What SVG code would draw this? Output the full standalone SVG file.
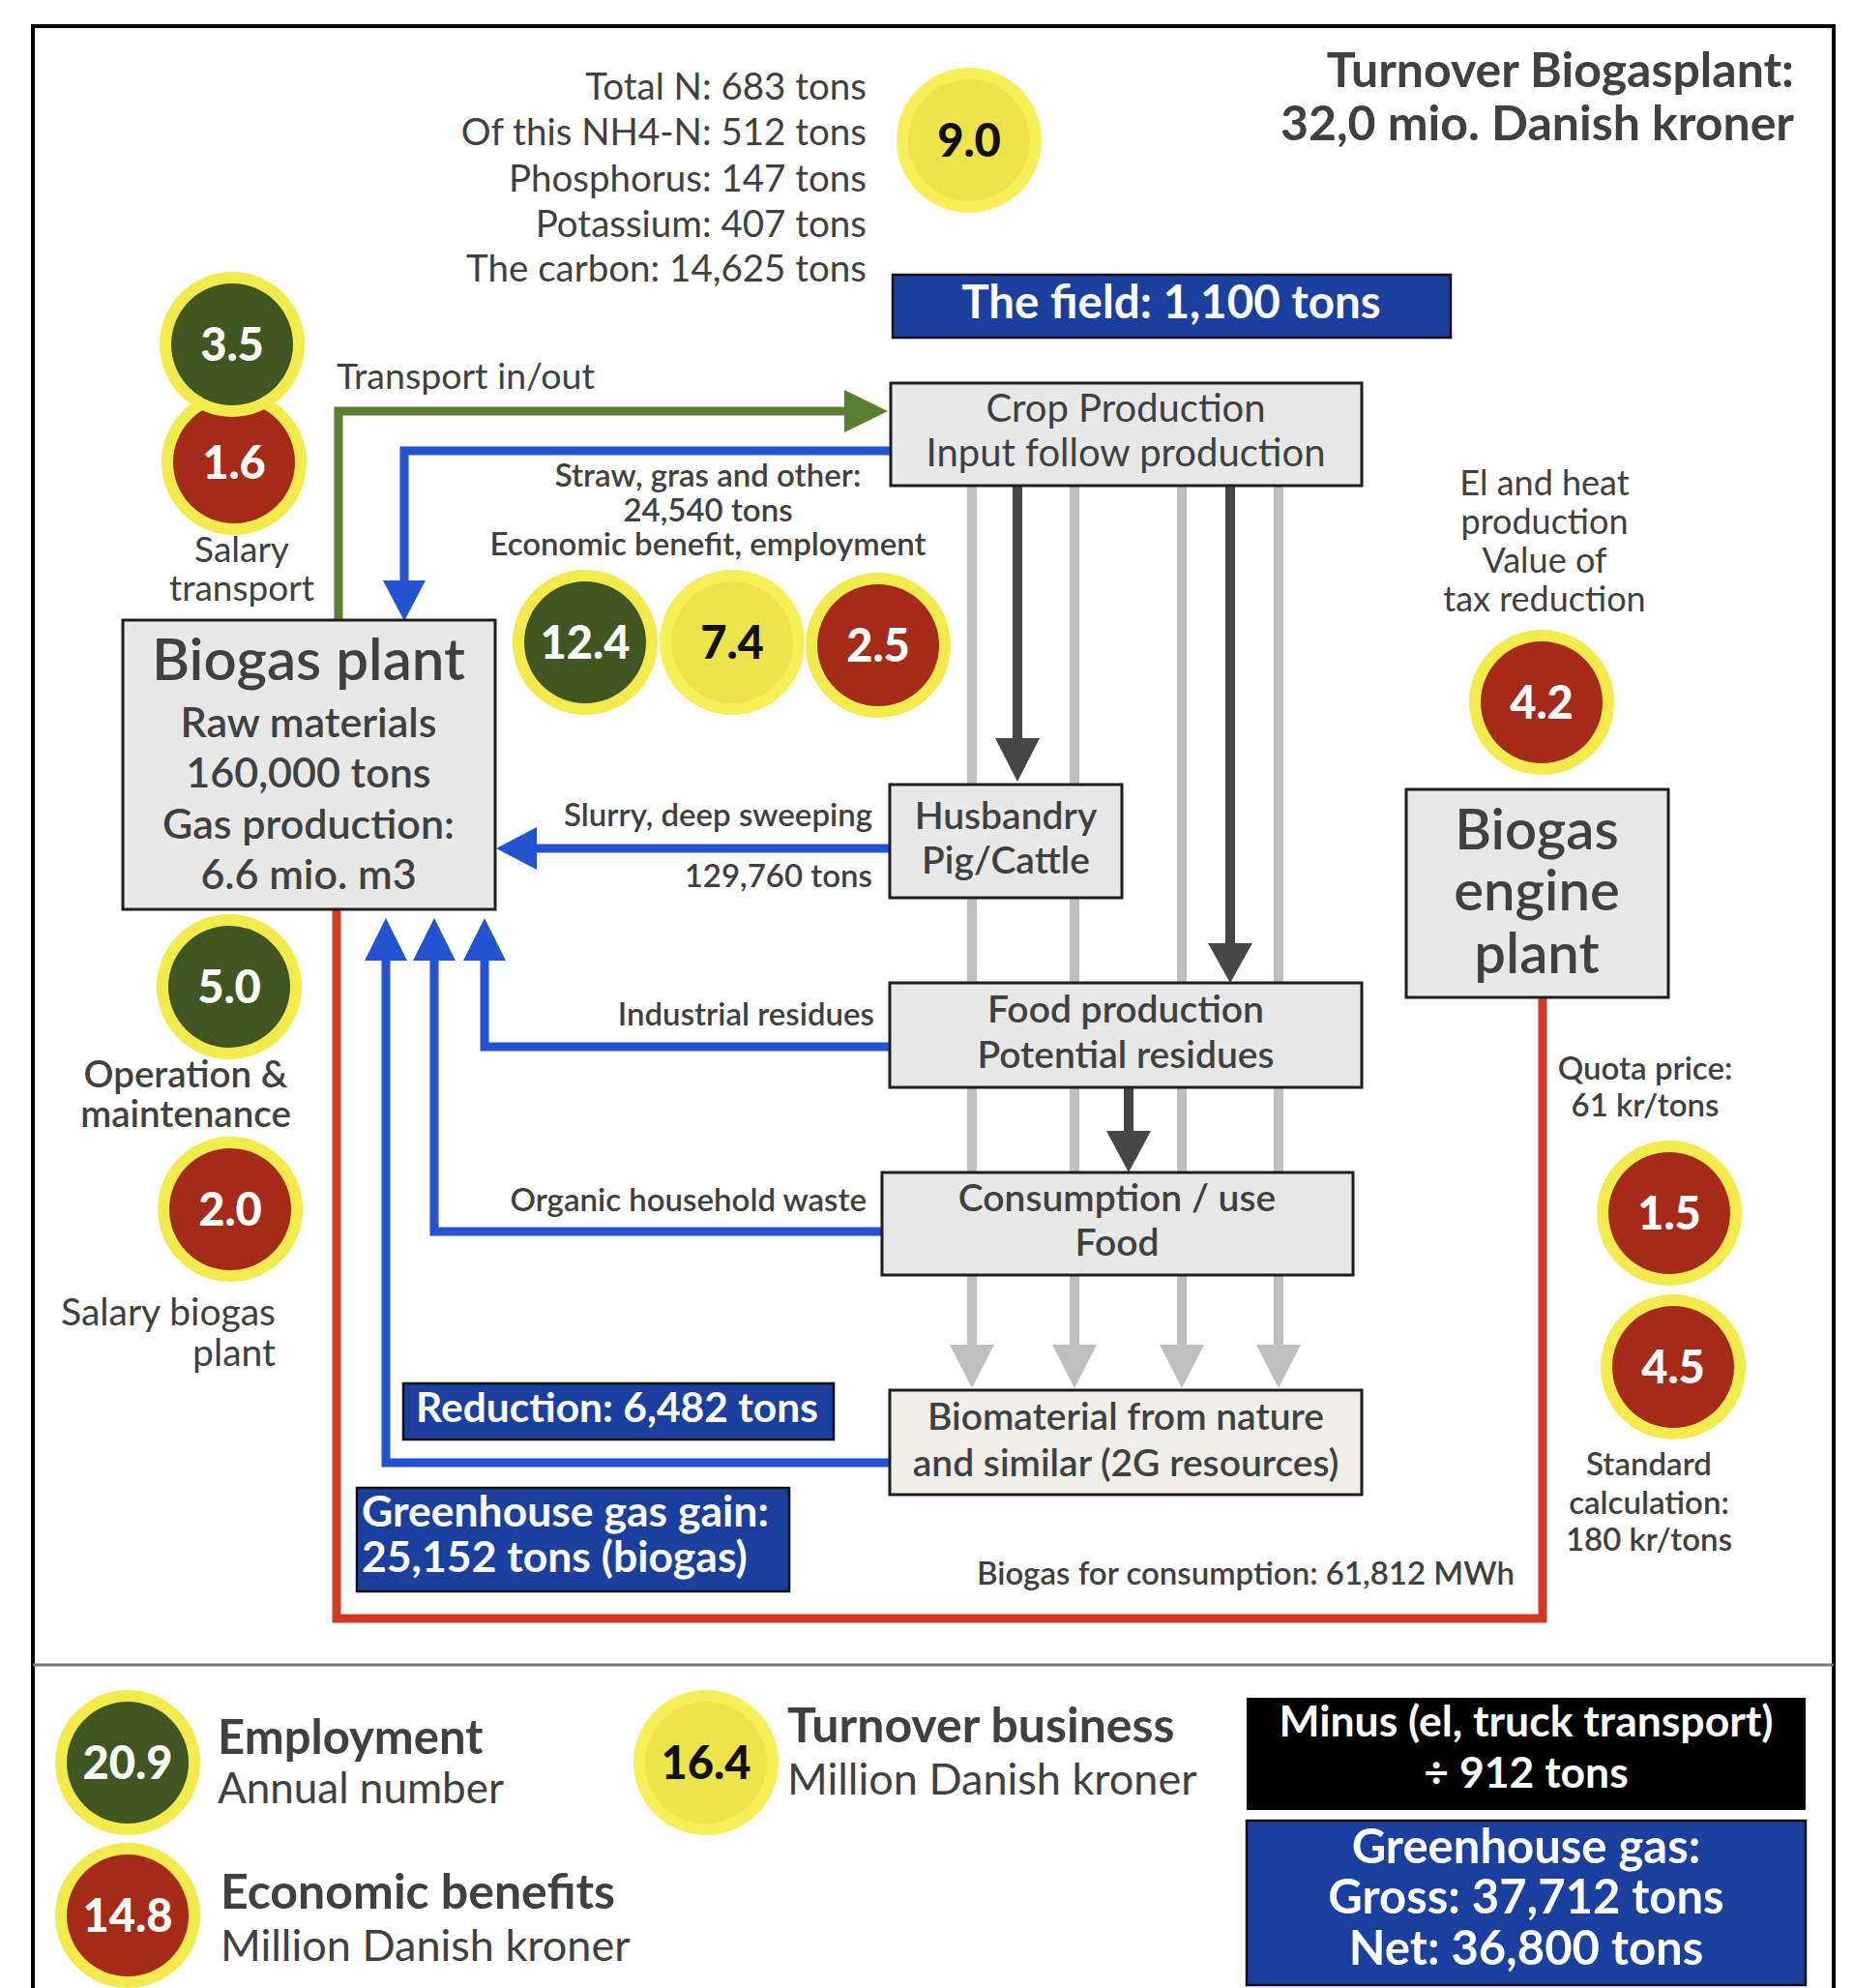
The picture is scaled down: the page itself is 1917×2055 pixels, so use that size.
<svg xmlns="http://www.w3.org/2000/svg" width="1917" height="2055" viewBox="0 0 1917 2055">
<defs>
<style>
.t{font-family:Lato,"Open Sans","DejaVu Sans",sans-serif;fill:#404040}
.b{font-weight:700}
.sb{font-weight:600}
.w{fill:#ffffff}
.k{fill:#111111}
.m{text-anchor:middle}
.e{text-anchor:end}
.box{fill:#e8e8e8;stroke:#1e1e1e;stroke-width:3}
.bbox{fill:#1b3f9f;stroke:#111;stroke-width:2.5}
.ring{fill:#f3ea4b}
.green{fill:#3f5623}
.red{fill:#a52a18}
.num{font-family:Lato,"Open Sans",sans-serif;font-weight:900;font-size:47px;text-anchor:middle}
.blue{stroke:#2453d2;stroke-width:9;fill:none}
.bluef{fill:#2453d2}
.grey{stroke:#bfbfbf;stroke-width:10;fill:none}
.greyf{fill:#bfbfbf}
.dark{stroke:#464646;stroke-width:10;fill:none}
.darkf{fill:#464646}
</style>
</defs>
<rect x="0" y="0" width="1917" height="2055" fill="#ffffff"/>
<path d="M34,2060 V27 H1896 V2060" fill="none" stroke="#000" stroke-width="4"/>
<line x1="34" y1="1721" x2="1896" y2="1721" stroke="#777" stroke-width="3"/>

<g id="connectors">
  <path class="grey" d="M1005,502 V1392 M1111,502 V1392 M1222,502 V1392 M1322,502 V1392"/>
  <polygon class="greyf" points="982,1390 1028,1390 1005,1435"/>
  <polygon class="greyf" points="1088,1390 1134,1390 1111,1435"/>
  <polygon class="greyf" points="1199,1390 1245,1390 1222,1435"/>
  <polygon class="greyf" points="1299,1390 1345,1390 1322,1435"/>
  <path class="dark" d="M1052,502 V765 M1272,502 V977 M1167,1124 V1171"/>
  <polygon class="darkf" points="1029,763 1075,763 1052,808"/>
  <polygon class="darkf" points="1249,975 1295,975 1272,1016"/>
  <polygon class="darkf" points="1144,1169 1190,1169 1167,1212"/>
  <path d="M350,641 V425 H876" fill="none" stroke="#5b7f31" stroke-width="9"/>
  <polygon fill="#5b7f31" points="873,403 873,447 918,425"/>
  <path class="blue" d="M921,466 H418 V602"/>
  <polygon class="bluef" points="396,600 440,600 418,642"/>
  <path class="blue" d="M920,877 H553"/>
  <polygon class="bluef" points="555,855 555,899 513,877"/>
  <path class="blue" d="M920,1082 H501 V991"/>
  <polygon class="bluef" points="479,993 523,993 501,949"/>
  <path class="blue" d="M912,1273 H449 V991"/>
  <polygon class="bluef" points="427,993 471,993 449,949"/>
  <path class="blue" d="M920,1512 H399 V991"/>
  <polygon class="bluef" points="377,993 421,993 399,949"/>
  <path d="M348,940 V1673 H1595 V1031" fill="none" stroke="#d13b22" stroke-width="9"/>
</g>

<g id="nutrients">
  <text class="t e" x="896" y="103" font-size="38.5">Total N: 683 tons</text>
  <text class="t e" x="896" y="150" font-size="38.5">Of this NH4-N: 512 tons</text>
  <text class="t e" x="896" y="198" font-size="38.5">Phosphorus: 147 tons</text>
  <text class="t e" x="896" y="245" font-size="38.5">Potassium: 407 tons</text>
  <text class="t e" x="896" y="291" font-size="38.5">The carbon: 14,625 tons</text>
</g>
<g id="c-9-0"><circle cx="1002" cy="145" r="75" fill="#f7ef58"/><circle cx="1002" cy="145" r="63" fill="#efe34c"/><text class="num k" x="1002" y="162">9.0</text></g>
<g id="turnover">
  <text class="t e b" x="1855" y="90" font-size="50">Turnover Biogasplant:</text>
  <text class="t e b" x="1855" y="145" font-size="50">32,0 mio. Danish kroner</text>
</g>
<g id="field"><rect class="bbox" x="923" y="284" width="577" height="65"/><text class="t w b m" x="1211" y="329" font-size="47.5">The field: 1,100 tons</text></g>

<g id="c-1-6"><circle class="ring" cx="242" cy="478" r="75"/><circle class="red" cx="242" cy="478" r="63"/><text class="num w" x="242" y="495">1.6</text></g>
<g id="c-3-5"><circle class="ring" cx="240" cy="356" r="75"/><circle class="green" cx="240" cy="356" r="63"/><text class="num w" x="240" y="373">3.5</text></g>
<g id="salary-transport">
  <text class="t m" x="250" y="581" font-size="37">Salary</text>
  <text class="t m" x="250" y="621" font-size="37">transport</text>
</g>
<text class="t" x="348" y="402" font-size="37.5">Transport in/out</text>

<g id="crop"><rect class="box" x="921" y="396" width="487" height="106"/>
  <text class="t m" x="1164" y="436" font-size="40">Crop Production</text>
  <text class="t m" x="1164" y="482" font-size="40">Input follow production</text></g>

<g id="straw-label">
  <text class="t m sb" x="732" y="503" font-size="33">Straw, gras and other:</text>
  <text class="t m sb" x="732" y="539" font-size="33">24,540 tons</text>
  <text class="t m sb" x="732" y="574" font-size="33">Economic benefit, employment</text>
</g>
<g id="c-12-4"><circle class="ring" cx="605" cy="664" r="75"/><circle class="green" cx="605" cy="664" r="63"/><text class="num w" x="605" y="681">12.4</text></g>
<g id="c-7-4"><circle cx="757" cy="664" r="75" fill="#f7ef58"/><circle cx="757" cy="664" r="63" fill="#efe34c"/><text class="num k" x="757" y="681">7.4</text></g>
<g id="c-2-5"><circle class="ring" cx="908" cy="667" r="75"/><circle class="red" cx="908" cy="667" r="63"/><text class="num w" x="908" y="684">2.5</text></g>

<g id="biogas-plant"><rect class="box" x="127" y="641" width="385" height="299"/>
  <text class="t m sb" x="319" y="703" font-size="60">Biogas plant</text>
  <text class="t m sb" x="319" y="762" font-size="43">Raw materials</text>
  <text class="t m sb" x="319" y="814" font-size="43">160,000 tons</text>
  <text class="t m sb" x="319" y="867" font-size="43">Gas production:</text>
  <text class="t m sb" x="319" y="919" font-size="43">6.6 mio. m3</text></g>

<g id="el-heat">
  <text class="t m" x="1597" y="512" font-size="36">El and heat</text>
  <text class="t m" x="1597" y="552" font-size="36">production</text>
  <text class="t m" x="1597" y="592" font-size="36">Value of</text>
  <text class="t m" x="1597" y="632" font-size="36">tax reduction</text>
</g>
<g id="c-4-2"><circle class="ring" cx="1594" cy="726" r="75"/><circle class="red" cx="1594" cy="726" r="63"/><text class="num w" x="1594" y="743">4.2</text></g>

<g id="husbandry"><rect class="box" x="920" y="811" width="240" height="117"/>
  <text class="t m sb" x="1040" y="857" font-size="39">Husbandry</text>
  <text class="t m sb" x="1040" y="903" font-size="39">Pig/Cattle</text></g>
<text class="t e sb" x="902" y="854" font-size="33">Slurry, deep sweeping</text>
<text class="t e sb" x="902" y="917" font-size="33">129,760 tons</text>

<g id="engine"><rect class="box" x="1454" y="816" width="271" height="215"/>
  <text class="t m sb" x="1589" y="878" font-size="58">Biogas</text>
  <text class="t m sb" x="1589" y="941" font-size="58">engine</text>
  <text class="t m sb" x="1589" y="1006" font-size="58">plant</text></g>

<g id="c-5-0"><circle class="ring" cx="237" cy="1020" r="75"/><circle class="green" cx="237" cy="1020" r="63"/><text class="num w" x="237" y="1037">5.0</text></g>
<g id="operation">
  <text class="t m sb" x="192" y="1124" font-size="38.5">Operation &amp;</text>
  <text class="t m sb" x="192" y="1165" font-size="38.5">maintenance</text>
</g>
<g id="c-2-0"><circle class="ring" cx="238" cy="1250" r="75"/><circle class="red" cx="238" cy="1250" r="63"/><text class="num w" x="238" y="1267">2.0</text></g>
<g id="salary-biogas">
  <text class="t e" x="285" y="1370" font-size="39">Salary biogas</text>
  <text class="t e" x="285" y="1412" font-size="39">plant</text>
</g>

<g id="food"><rect class="box" x="920" y="1016" width="488" height="108"/>
  <text class="t m sb" x="1164" y="1057" font-size="39">Food production</text>
  <text class="t m sb" x="1164" y="1104" font-size="39">Potential residues</text></g>
<text class="t e sb" x="904" y="1060" font-size="33">Industrial residues</text>

<g id="quota">
  <text class="t m sb" x="1701" y="1116" font-size="33">Quota price:</text>
  <text class="t m sb" x="1701" y="1154" font-size="33">61 kr/tons</text>
</g>
<g id="c-1-5"><circle class="ring" cx="1726" cy="1254" r="75"/><circle class="red" cx="1726" cy="1254" r="63"/><text class="num w" x="1726" y="1271">1.5</text></g>
<g id="c-4-5"><circle class="ring" cx="1730" cy="1413" r="75"/><circle class="red" cx="1730" cy="1413" r="63"/><text class="num w" x="1730" y="1430">4.5</text></g>
<g id="standard">
  <text class="t m sb" x="1705" y="1525" font-size="33">Standard</text>
  <text class="t m sb" x="1705" y="1565" font-size="33">calculation:</text>
  <text class="t m sb" x="1705" y="1603" font-size="33">180 kr/tons</text>
</g>

<g id="consumption"><rect class="box" x="912" y="1212" width="487" height="106"/>
  <text class="t m sb" x="1155" y="1252" font-size="39">Consumption / use</text>
  <text class="t m sb" x="1155" y="1298" font-size="39">Food</text></g>
<text class="t e sb" x="896" y="1252" font-size="33">Organic household waste</text>

<g id="biomaterial"><rect class="box" x="920" y="1437" width="488" height="108" style="fill:#efeee9"/>
  <text class="t m sb" x="1164" y="1478" font-size="39">Biomaterial from nature</text>
  <text class="t m sb" x="1164" y="1526" font-size="39">and similar (2G resources)</text></g>

<g id="reduction"><rect class="bbox" x="417" y="1430" width="445" height="58"/>
  <text class="t w b m" x="638" y="1470" font-size="42.5">Reduction: 6,482 tons</text></g>
<g id="gain"><rect class="bbox" x="369" y="1538" width="447" height="107"/>
  <text class="t w b" x="374" y="1578" font-size="44.5">Greenhouse gas gain:</text>
  <text class="t w b" x="374" y="1625" font-size="44.5">25,152 tons (biogas)</text></g>
<text class="t sb" x="1010" y="1638" font-size="33">Biogas for consumption: 61,812 MWh</text>

<g id="legend-employment"><circle class="ring" cx="132" cy="1822" r="75"/><circle class="green" cx="132" cy="1822" r="63"/><text class="num w" x="132" y="1839">20.9</text>
  <text class="t b" x="225" y="1813" font-size="49">Employment</text>
  <text class="t" x="225" y="1864" font-size="44">Annual number</text></g>
<g id="legend-benefits"><circle class="ring" cx="132" cy="1980" r="75"/><circle class="red" cx="132" cy="1980" r="63"/><text class="num w" x="132" y="1997">14.8</text>
  <text class="t b" x="228" y="1973" font-size="50">Economic benefits</text>
  <text class="t" x="228" y="2027" font-size="45">Million Danish kroner</text></g>
<g id="legend-turnover"><circle cx="730" cy="1822" r="75" fill="#f7ef58"/><circle cx="730" cy="1822" r="63" fill="#efe34c"/><text class="num k" x="730" y="1839">16.4</text>
  <text class="t b" x="814" y="1801" font-size="50">Turnover business</text>
  <text class="t" x="814" y="1855" font-size="45">Million Danish kroner</text></g>

<g id="minus"><rect x="1289" y="1755" width="578" height="116" fill="#000"/>
  <text class="t w b m" x="1578" y="1795" font-size="44.5">Minus (el, truck transport)</text>
  <text class="t w b m" x="1578" y="1848" font-size="44.5">÷ 912 tons</text></g>
<g id="ghg"><rect class="bbox" x="1289" y="1882" width="578" height="170"/>
  <text class="t w b m" x="1578" y="1926" font-size="49">Greenhouse gas:</text>
  <text class="t w b m" x="1578" y="1978" font-size="49">Gross: 37,712 tons</text>
  <text class="t w b m" x="1578" y="2031" font-size="49">Net: 36,800 tons</text></g>
</svg>
